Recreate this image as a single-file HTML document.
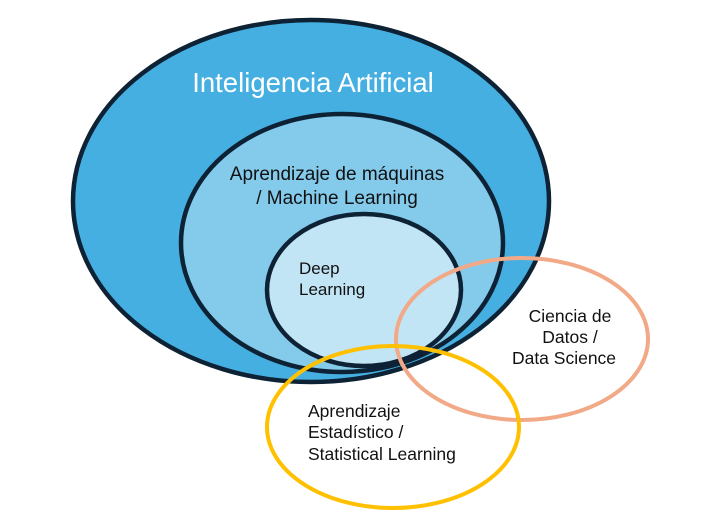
<!DOCTYPE html>
<html><head><meta charset="utf-8"><style>
html,body{margin:0;padding:0;background:#fff;}
svg{display:block;}
text{font-family:"Liberation Sans",sans-serif;}
</style></head><body>
<svg width="720" height="528" viewBox="0 0 720 528">
<ellipse cx="311" cy="201" rx="238" ry="181" fill="#45afe1" stroke="#0d2234" stroke-width="4.5"/>
<ellipse cx="342" cy="243" rx="161" ry="129" fill="#84caeb" stroke="#0d2234" stroke-width="4.5"/>
<ellipse cx="364" cy="290" rx="97" ry="76" fill="#c1e5f5" stroke="#0d2234" stroke-width="4.5"/>
<ellipse cx="522" cy="339" rx="126" ry="81" fill="none" stroke="#f1a987" stroke-width="4"/>
<ellipse cx="393" cy="427" rx="126" ry="81" fill="none" stroke="#ffc000" stroke-width="4"/>
<text x="313" y="92" font-size="27.5" fill="#fff" text-anchor="middle">Inteligencia Artificial</text>
<text x="337" y="180" font-size="19" fill="#111" text-anchor="middle">Aprendizaje de máquinas</text>
<text x="337" y="204" font-size="19" fill="#111" text-anchor="middle">/ Machine Learning</text>
<text x="299" y="274" font-size="17" fill="#111">Deep</text>
<text x="299" y="295" font-size="17" fill="#111">Learning</text>
<text x="570" y="322" font-size="17.5" fill="#111" text-anchor="middle">Ciencia de</text>
<text x="570" y="343" font-size="17.5" fill="#111" text-anchor="middle">Datos /</text>
<text x="564" y="364" font-size="17.5" fill="#111" text-anchor="middle">Data Science</text>
<text x="308" y="417" font-size="17.5" fill="#111">Aprendizaje</text>
<text x="308" y="438" font-size="17.5" fill="#111">Estadístico /</text>
<text x="308" y="460" font-size="17.5" fill="#111">Statistical Learning</text>
</svg>
</body></html>
